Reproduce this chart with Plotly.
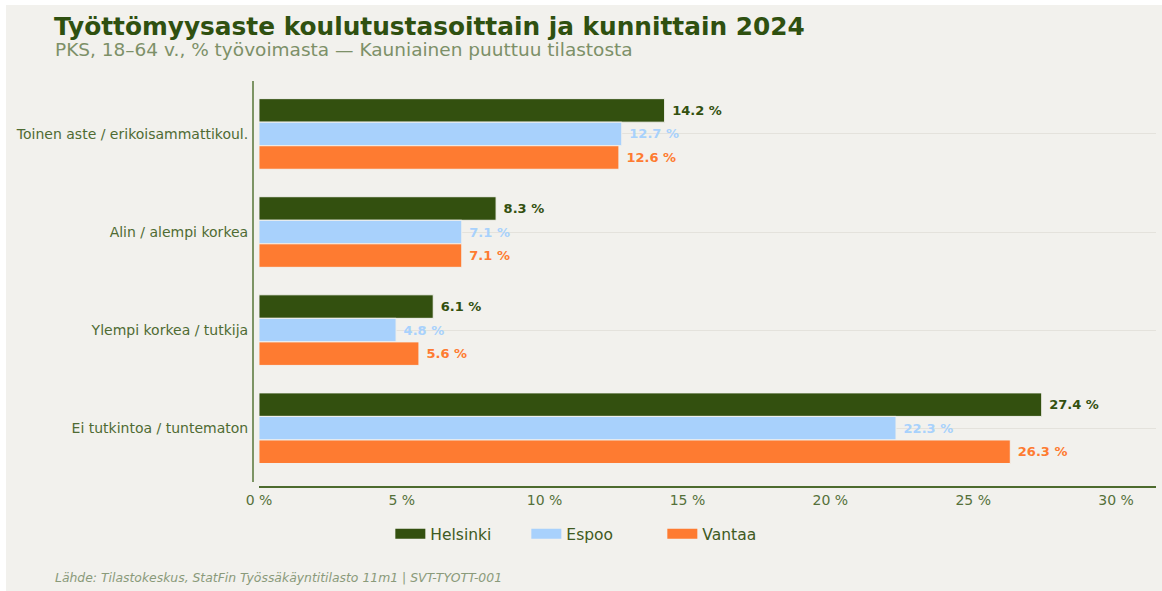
import plotly.graph_objects as go

categories = ["Toinen aste / erikoisammattikoul.", "Alin / alempi korkea",
              "Ylempi korkea / tutkija", "Ei tutkintoa / tuntematon"]
series_names = ["Helsinki", "Espoo", "Vantaa"]
helsinki = [14.2, 8.3, 6.1, 27.4]
espoo = [12.7, 7.1, 4.8, 22.3]
vantaa = [12.6, 7.1, 5.6, 26.3]
x_ticks = [0, 5, 10, 15, 20, 25, 30]
x_tick_labels = [f"{v} %" for v in x_ticks]

colors = ["#33500f", "#a8d1fc", "#fe7b31"]
FONT = "DejaVu Sans"
BG = "#f2f1ed"

fig = go.Figure()
for name, vals, col in zip(series_names, [helsinki, espoo, vantaa], colors):
    fig.add_trace(go.Bar(
        y=categories, x=vals, name=name, orientation="h", showlegend=False,
        marker=dict(color=col, line=dict(color=BG, width=1)),
        text=[f" {v:.1f} %" for v in vals], textposition="outside",
        textfont=dict(family=FONT, size=13, color=col, weight="bold"),
        cliponaxis=False,
    ))
# legend entries (wide rectangular swatches)
for name, col in zip(series_names, colors):
    fig.add_trace(go.Scatter(x=[None], y=[None], mode="lines", name=name,
                             line=dict(color=col, width=17), showlegend=True))

fig.update_layout(
    width=1156, height=586,
    paper_bgcolor=BG, plot_bgcolor=BG,
    margin=dict(l=247, r=6, t=76, b=104),
    barmode="group", bargap=0.28, bargroupgap=0,
    font=dict(family=FONT, color="#4f6b33"),
    showlegend=True,
    legend=dict(orientation="h", x=0.378, xanchor="center", y=-0.116, yanchor="middle",
                font=dict(size=15.5, color="#3f5a22"), bgcolor="rgba(0,0,0,0)",
                traceorder="normal", itemwidth=30, entrywidth=91, entrywidthmode="pixels"),
    xaxis=dict(domain=[0.0066, 1], range=[0, 31.4], tickvals=x_ticks, ticktext=x_tick_labels,
               showgrid=False, zeroline=False, showline=True, linecolor="#4d6b2e",
               linewidth=1.5, tickfont=dict(size=14, color="#55703a"), ticks="",
               anchor="free", position=0),
    yaxis=dict(domain=[0.012, 1], range=[3.55, -0.54], showgrid=True, gridcolor="#e4e2dc",
               gridwidth=1, showline=True, linecolor="#7d9465", linewidth=2,
               layer="above traces", zeroline=False,
               tickfont=dict(size=14, color="#4f6b33"), ticks="", ticklabelstandoff=1,
               anchor="free", position=0),
    annotations=[
        dict(text="<b>Työttömyysaste koulutustasoittain ja kunnittain 2024</b>",
             xref="paper", yref="paper", x=-0.2226, y=1.135, xanchor="left", yanchor="middle",
             showarrow=False, font=dict(family=FONT, size=24.8, color="#2f5010")),
        dict(text="PKS, 18–64 v., % työvoimasta — Kauniainen puuttuu tilastosta",
             xref="paper", yref="paper", x=-0.2215, y=1.077, xanchor="left", yanchor="middle",
             showarrow=False, font=dict(family=FONT, size=18.5, color="#7d9068")),
        dict(text="<i>Lähde: Tilastokeskus, StatFin Työssäkäyntitilasto 11m1 | SVT-TYOTT-001</i>",
             xref="paper", yref="paper", x=-0.2215, y=-0.224, xanchor="left", yanchor="middle",
             showarrow=False, font=dict(family=FONT, size=12.4, color="#8a9a7a")),
    ],
)

fig.write_html("out.html", post_script="document.body.style.margin='5px 0 0 6px';")
